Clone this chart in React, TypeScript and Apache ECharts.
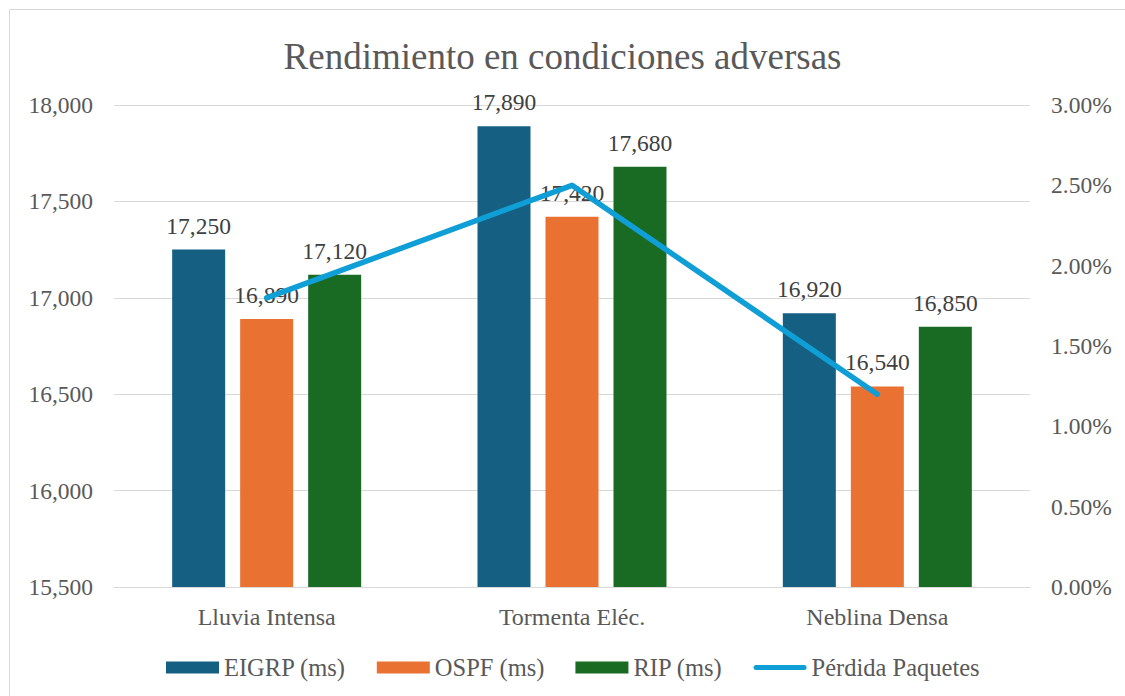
import React, { useEffect, useRef } from "react";
import * as echarts from "echarts";

const categories = ["Lluvia Intensa", "Tormenta Eléc.", "Neblina Densa"];
const eigrp = [17250, 17890, 16920];
const ospf = [16890, 17420, 16540];
const rip = [17120, 17680, 16850];
const perdida = [1.8, 2.5, 1.2];

const FONT = "Liberation Serif";
const AXIS_COLOR = "#595959";
const LABEL_COLOR = "#404040";
const FS = 23.5;

export default function App() {
  const ref = useRef<HTMLDivElement>(null);
  useEffect(() => {
    if (!ref.current) return;
    const chart = echarts.init(ref.current, undefined, { renderer: "svg" });
    const barLabel = {
      show: true,
      position: "top" as const,
      distance: 12,
      color: LABEL_COLOR,
      fontFamily: FONT,
      fontSize: FS,
      formatter: (p: any) => Number(p.value).toLocaleString("en-US"),
    };
    chart.setOption({
      animation: false,
      backgroundColor: "#ffffff",
      textStyle: { fontFamily: FONT },
      title: {
        text: "Rendimiento en condiciones adversas",
        left: "center",
        top: 31,
        textStyle: {
          fontFamily: FONT,
          fontSize: 37,
          fontWeight: "normal",
          color: AXIS_COLOR,
          lineHeight: 40,
        },
      },
      graphic: [
        {
          type: "rect",
          shape: { x: 9.5, y: 9.5, width: 1130, height: 700 },
          style: { fill: "none", stroke: "#d9d9d9", lineWidth: 1 },
          silent: true,
        },
      ],
      legend: {
        left: 166,
        top: 655,
        padding: 0,
        itemWidth: 53,
        itemHeight: 12,
        itemGap: 31,
        textStyle: { fontFamily: FONT, fontSize: 24.5, color: AXIS_COLOR },
        data: [
          { name: "EIGRP (ms)", icon: "rect" },
          { name: "OSPF (ms)", icon: "rect" },
          { name: "RIP (ms)", icon: "rect" },
          {
            name: "Pérdida Paquetes",
            icon: "path://M2.75,0 L55.25,0 A2.75,2.75 0 0 1 55.25,5.5 L2.75,5.5 A2.75,2.75 0 0 1 2.75,0 Z",
          },
        ],
      },
      grid: { left: 114, right: 95, top: 105, bottom: 109, containLabel: false },
      xAxis: {
        type: "category",
        data: categories,
        axisTick: { show: false },
        axisLine: { lineStyle: { color: "#d9d9d9", width: 1 } },
        axisLabel: { color: AXIS_COLOR, fontFamily: FONT, fontSize: 24, margin: 18 },
      },
      yAxis: [
        {
          type: "value",
          min: 15500,
          max: 18000,
          interval: 500,
          alignTicks: false,
          axisLine: { show: false },
          axisTick: { show: false },
          splitLine: { lineStyle: { color: "#d9d9d9", width: 1 } },
          axisLabel: {
            color: AXIS_COLOR,
            fontFamily: FONT,
            fontSize: FS,
            margin: 21,
            formatter: (v: number) => v.toLocaleString("en-US"),
          },
        },
        {
          type: "value",
          min: 0,
          max: 3,
          interval: 0.5,
          alignTicks: false,
          position: "right",
          axisLine: { show: false },
          axisTick: { show: false },
          splitLine: { show: false },
          axisLabel: {
            color: AXIS_COLOR,
            fontFamily: FONT,
            fontSize: FS,
            margin: 21,
            formatter: (v: number) => v.toFixed(2) + "%",
          },
        },
      ],
      series: [
        {
          name: "EIGRP (ms)",
          type: "bar",
          data: eigrp,
          barWidth: 53,
          barGap: "28.3%",
          itemStyle: { color: "#156082" },
          label: barLabel,
        },
        {
          name: "OSPF (ms)",
          type: "bar",
          data: ospf,
          barWidth: 53,
          barGap: "28.3%",
          itemStyle: { color: "#E97132" },
          label: barLabel,
        },
        {
          name: "RIP (ms)",
          type: "bar",
          data: rip,
          barWidth: 53,
          barGap: "28.3%",
          itemStyle: { color: "#196B24" },
          label: barLabel,
        },
        {
          name: "Pérdida Paquetes",
          type: "line",
          yAxisIndex: 1,
          data: perdida,
          symbol: "none",
          z: 5,
          itemStyle: { color: "#0F9ED5" },
          lineStyle: { color: "#0F9ED5", width: 5.5, cap: "round", join: "round" },
        },
      ],
    });
    return () => chart.dispose();
  }, []);
  return (
    <div
      ref={ref}
      style={{ position: "fixed", left: 0, top: 0, width: 1125, height: 696 }}
    />
  );
}
